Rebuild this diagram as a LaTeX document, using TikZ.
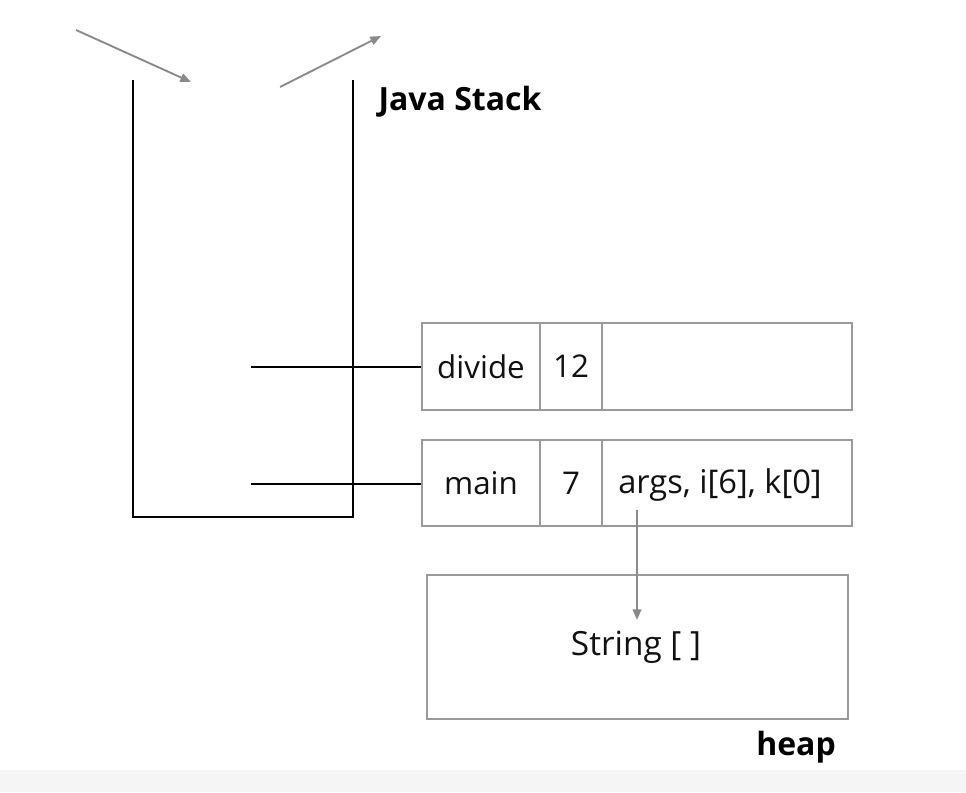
\documentclass[tikz,border=0pt]{standalone}
\usepackage{fontspec}
\setmainfont{Open Sans}
\usetikzlibrary{arrows.meta}
\definecolor{boxgray}{HTML}{9A9A9A}
\definecolor{arrgray}{HTML}{8A8A8A}
\definecolor{txt}{HTML}{111111}
\definecolor{band}{HTML}{F5F5F5}
\begin{document}
\begin{tikzpicture}[x=0.75pt,y=-0.75pt,
  cell/.style={draw=boxgray, line width=1.3pt, rectangle, inner sep=0pt, text=txt,
    font=\fontsize{23.5}{27}\selectfont, minimum height=65pt},
  stackline/.style={draw=black, line width=1.4pt},
  link/.style={draw=black, line width=1.4pt},
  ptr/.style={draw=arrgray, line width=1.4pt, -{Triangle[length=8pt,width=6.5pt]}},
  lbl/.style={font=\fontsize{24}{28}\selectfont\bfseries, text=black, inner sep=0pt}]
\useasboundingbox (0,0) rectangle (966,792);
\fill[band] (0,770) rectangle (966,792);
% top arrows
\coordinate (p1) at (76,30);
\coordinate (p2) at (191,82);
\coordinate (p3) at (280,87);
\coordinate (p4) at (381,36);
\draw[ptr] (p1) -- (p2);
\draw[ptr] (p3) -- (p4);
% stack
\draw[stackline] (133,80) -- (133,517) -- (353,517) -- (353,80);
\node[lbl] (js) at (460,102) {Java Stack};
% frames
\node[cell, minimum width=88.5pt] (c11) at (481,366.5) {divide};
\node[cell, minimum width=46.5pt] (c12) at (571,366.5) {12};
\node[cell, minimum width=187.5pt] (c13) at (727,366.5) {};
\node[cell, minimum width=88.5pt] (c21) at (481,483) {main};
\node[cell, minimum width=46.5pt] (c22) at (571,483) {7};
\node[cell, minimum width=187.5pt] (c23) at (727,483) {};
\node[text=txt, font=\fontsize{24.5}{28}\selectfont, inner sep=0pt] (args) at (720,485) {args, i[6], k[0]};
% links from stack
\coordinate (s1) at (251,367);
\coordinate (s2) at (251,484);
\draw[link] (s1) -- (s1 -| c11.west);
\draw[link] (s2) -- (s2 -| c21.west);
% heap
\node[cell, minimum width=315.75pt, minimum height=108pt] (heap) at (637.5,647) {};
\node[text=txt, font=\fontsize{25}{29}\selectfont, inner sep=0pt] (str) at (636,647) {String [ ]};
\node[lbl] (hp) at (796,747) {heap};
\coordinate (a0) at (637,510);
\coordinate (a1) at (637,620);
\draw[ptr] (a0) -- (a1);
\end{tikzpicture}
\end{document}
